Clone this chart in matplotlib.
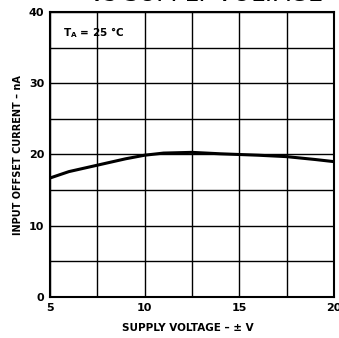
import matplotlib
matplotlib.use("Agg")
import matplotlib.pyplot as plt

plt.rcParams['font.family'] = ['DejaVu Sans']

# supply voltage (+/- V) vs input offset current (nA)
supply_v = [5, 6, 7.5, 9, 10, 11, 12.5, 14, 15, 16, 17.5, 19, 20]
offset_na = [16.7, 17.6, 18.5, 19.4, 19.9, 20.2, 20.3, 20.1, 20.0, 19.9, 19.7, 19.3, 19.0]

x_ticks = [5, 7.5, 10, 12.5, 15, 17.5, 20]
x_labels = ['5', '', '10', '', '15', '', '20']
y_ticks = [0, 5, 10, 15, 20, 25, 30, 35, 40]
y_labels = ['0', '', '10', '', '20', '', '30', '', '40']

fig = plt.figure(figsize=(3.39, 3.38), dpi=100)
ax = fig.add_axes([0.1475, 0.1213, 0.8375, 0.8432])

ax.plot(supply_v, offset_na, color='black', lw=2.2, solid_capstyle='round')

ax.set_xlim(5, 20)
ax.set_ylim(0, 40)
ax.set_xticks(x_ticks)
ax.set_xticklabels(x_labels)
ax.set_yticks(y_ticks)
ax.set_yticklabels(y_labels)
ax.grid(True, color='black', lw=1.0)
ax.tick_params(length=0, labelsize=8, pad=4)
for lbl in ax.get_xticklabels() + ax.get_yticklabels():
    lbl.set_fontweight('bold')
for s in ax.spines.values():
    s.set_linewidth(1.5)

fig.text(0.555, 0.015, 'SUPPLY VOLTAGE – ± V', fontsize=7.5, fontweight='bold',
         ha='center', va='bottom')
fig.text(0.052, 0.54, 'INPUT OFFSET CURRENT – nA', fontsize=7, fontweight='bold',
         ha='center', va='center', rotation=90)

ax.text(0.045, 0.955, r'T$_\mathregular{A}$ = 25 °C', transform=ax.transAxes,
        fontsize=7.5, fontweight='bold', va='top', ha='left')

# title, mostly cut off by the top edge
fig.text(0.61, 1.0 - 1 / 338, 'vs SUPPLY VOLTAGE', fontsize=17, ha='center',
         va='baseline')

fig.savefig('out.png', dpi=100)
